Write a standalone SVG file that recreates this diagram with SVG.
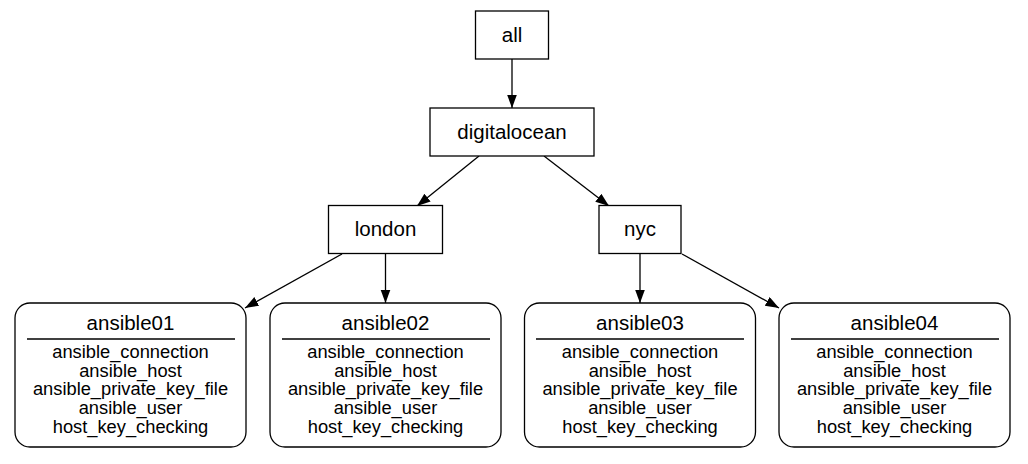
<svg xmlns="http://www.w3.org/2000/svg" width="1028" height="464" viewBox="0 0 1028 464">
<style>
  .box { fill: #fff; stroke: #000; stroke-width: 1.3; }
  .sep { stroke: #000; stroke-width: 1.3; }
  .lbl { font-family: "Liberation Sans", Arial, sans-serif; font-size: 20.5px; fill: #000; text-anchor: middle; }
  .attr { font-family: "Liberation Sans", Arial, sans-serif; font-size: 18.3px; fill: #000; text-anchor: middle; }
  .edge { stroke: #000; stroke-width: 1.3; fill: none; marker-end: url(#arrow); }
</style>
<defs>
  <marker id="arrow" markerUnits="userSpaceOnUse" markerWidth="15" markerHeight="11" refX="13.5" refY="5" orient="auto">
    <path d="M0,0 L13.5,5 L0,10 z" fill="#000"/>
  </marker>
</defs>
<rect width="1028" height="464" fill="#fff"/>
<g id="connectors">
  <line class="edge" x1="512" y1="59" x2="512" y2="108"/>
  <line class="edge" x1="479" y1="156" x2="417" y2="206"/>
  <line class="edge" x1="544" y1="156" x2="609" y2="206"/>
  <line class="edge" x1="342" y1="254" x2="245" y2="308"/>
  <line class="edge" x1="385.5" y1="253" x2="385.5" y2="303"/>
  <line class="edge" x1="640" y1="253" x2="640" y2="303"/>
  <line class="edge" x1="682" y1="254" x2="779" y2="308"/>
</g>
<g id="node-all">
  <rect class="box" x="475.5" y="11" width="73" height="48"/>
  <text class="lbl" x="512" y="42">all</text>
</g>
<g id="node-digitalocean">
  <rect class="box" x="430" y="108" width="164" height="48"/>
  <text class="lbl" x="512" y="139">digitalocean</text>
</g>
<g id="node-london">
  <rect class="box" x="328.5" y="205.5" width="114" height="48"/>
  <text class="lbl" x="385.5" y="236">london</text>
</g>
<g id="node-nyc">
  <rect class="box" x="599" y="205.5" width="82" height="48"/>
  <text class="lbl" x="640" y="236">nyc</text>
</g>
<g id="node-ansible01">
  <rect class="box" x="15" y="303" width="231" height="144" rx="15" ry="15"/>
  <text class="lbl" x="130.5" y="330">ansible01</text>
  <line class="sep" x1="27" y1="339" x2="235" y2="339"/>
  <text class="attr" x="130.5" y="358">ansible_connection</text>
  <text class="attr" x="130.5" y="376.7">ansible_host</text>
  <text class="attr" x="130.5" y="395.4">ansible_private_key_file</text>
  <text class="attr" x="130.5" y="414.1">ansible_user</text>
  <text class="attr" x="130.5" y="432.8">host_key_checking</text>
</g>
<g id="node-ansible02">
  <rect class="box" x="270" y="303" width="231" height="144" rx="15" ry="15"/>
  <text class="lbl" x="385.5" y="330">ansible02</text>
  <line class="sep" x1="282" y1="339" x2="490" y2="339"/>
  <text class="attr" x="385.5" y="358">ansible_connection</text>
  <text class="attr" x="385.5" y="376.7">ansible_host</text>
  <text class="attr" x="385.5" y="395.4">ansible_private_key_file</text>
  <text class="attr" x="385.5" y="414.1">ansible_user</text>
  <text class="attr" x="385.5" y="432.8">host_key_checking</text>
</g>
<g id="node-ansible03">
  <rect class="box" x="524.5" y="303" width="231" height="144" rx="15" ry="15"/>
  <text class="lbl" x="640" y="330">ansible03</text>
  <line class="sep" x1="536" y1="339" x2="744" y2="339"/>
  <text class="attr" x="640" y="358">ansible_connection</text>
  <text class="attr" x="640" y="376.7">ansible_host</text>
  <text class="attr" x="640" y="395.4">ansible_private_key_file</text>
  <text class="attr" x="640" y="414.1">ansible_user</text>
  <text class="attr" x="640" y="432.8">host_key_checking</text>
</g>
<g id="node-ansible04">
  <rect class="box" x="779" y="303" width="231" height="144" rx="15" ry="15"/>
  <text class="lbl" x="894.5" y="330">ansible04</text>
  <line class="sep" x1="791" y1="339" x2="999" y2="339"/>
  <text class="attr" x="894.5" y="358">ansible_connection</text>
  <text class="attr" x="894.5" y="376.7">ansible_host</text>
  <text class="attr" x="894.5" y="395.4">ansible_private_key_file</text>
  <text class="attr" x="894.5" y="414.1">ansible_user</text>
  <text class="attr" x="894.5" y="432.8">host_key_checking</text>
</g>
</svg>
